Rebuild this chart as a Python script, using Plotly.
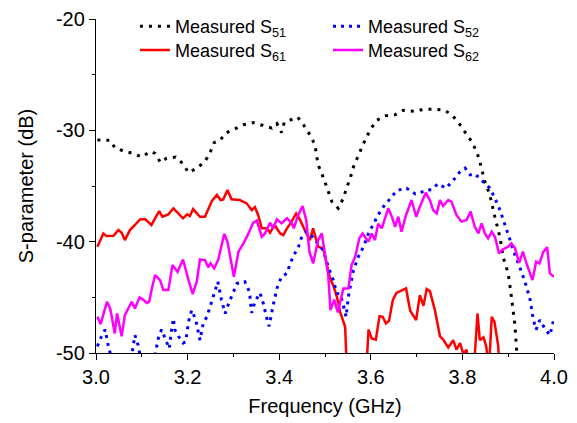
import plotly.graph_objects as go

# ---------------- data ----------------
s51_f = [3.003, 3.031, 3.041, 3.060, 3.081, 3.100, 3.118, 3.129, 3.141, 3.154, 3.174, 3.189, 3.202,
         3.220, 3.238, 3.249, 3.258, 3.271, 3.282, 3.300, 3.322, 3.343, 3.365, 3.384, 3.395, 3.405,
         3.411, 3.424, 3.440, 3.453, 3.467, 3.478, 3.485, 3.496, 3.504, 3.515, 3.529, 3.540, 3.547,
         3.555, 3.562, 3.573, 3.584, 3.598, 3.613, 3.631, 3.653, 3.671, 3.697, 3.715, 3.737, 3.762,
         3.779, 3.793, 3.809, 3.820, 3.831, 3.838, 3.849, 3.860, 3.871, 3.882, 3.889, 3.900, 3.907,
         3.915, 3.918, 3.925, 3.935]
s51_db = [-30.87, -30.9, -31.56, -31.86, -32.07, -32.4, -31.9, -32.07, -32.9, -32.5, -32.4, -32.97, -33.8,
          -33.4, -32.8, -32.0, -31.1, -30.9, -30.27, -29.9, -29.5, -29.3, -29.6, -29.8, -29.4, -30.2,
          -29.3, -29.07, -28.8, -29.5, -30.4, -31.3, -33.1, -34.2, -35.2, -36.4, -37.0, -36.1, -35.2,
          -34.3, -33.3, -32.2, -31.2, -30.0, -29.1, -28.7, -28.6, -28.2, -28.3, -28.1, -28.1, -28.2,
          -28.7, -29.4, -30.3, -31.0, -31.9, -32.8, -34.6, -35.8, -37.8, -39.6, -41.4, -42.85, -44.95,
          -47.6, -49.6, -52.5, -56.0]

s52_f = [3.003, 3.012, 3.020, 3.027, 3.040, 3.060, 3.070, 3.080, 3.085, 3.092, 3.100, 3.115, 3.125,
         3.131, 3.136, 3.143, 3.153, 3.160, 3.165, 3.169, 3.172, 3.180, 3.190, 3.196, 3.202, 3.209,
         3.218, 3.227, 3.234, 3.242, 3.249, 3.258, 3.266, 3.274, 3.282, 3.291, 3.300, 3.308, 3.325,
         3.335, 3.340, 3.347, 3.358, 3.365, 3.373, 3.378, 3.386, 3.395, 3.405, 3.417, 3.424, 3.434,
         3.441, 3.448, 3.459, 3.467, 3.478, 3.489, 3.496, 3.507, 3.518, 3.526, 3.533, 3.540, 3.546,
         3.551, 3.562, 3.573, 3.584, 3.595, 3.606, 3.616, 3.627, 3.642, 3.657, 3.678, 3.697, 3.715,
         3.733, 3.747, 3.764, 3.780, 3.793, 3.806, 3.817, 3.827, 3.846, 3.860, 3.871, 3.882, 3.893,
         3.904, 3.915, 3.929, 3.940, 3.948, 3.951, 3.955, 3.961, 3.969, 3.980, 3.991, 4.000]
s52_db = [-49.4, -48.5, -47.9, -49.4, -51.5, -52.0, -51.0, -49.7, -48.4, -49.3, -51.0, -52.0, -51.0,
          -49.6, -48.7, -47.9, -48.84, -49.6, -47.9, -46.9, -47.9, -48.5, -49.1, -48.98, -47.2, -46.15,
          -47.04, -48.84, -47.35, -46.75, -45.85, -44.65, -43.6, -45.25, -46.45, -45.4, -44.5, -43.75, -43.6,
          -44.5, -46.4, -45.4, -44.6, -45.5, -46.9, -47.6, -45.85, -44.2, -43.15, -42.85, -41.95, -41.05,
          -40.6, -39.7, -39.1, -39.26, -39.86, -40.45, -40.75, -42.25, -43.45, -44.65, -44.7, -45.7, -46.75,
          -44.95, -42.55, -41.35, -40.45, -39.26, -38.36, -37.6, -36.9, -36.2, -35.4, -35.2, -35.7, -35.5,
          -35.3, -34.8, -35.2, -34.5, -33.8, -33.4, -34.0, -33.9, -34.6, -35.2, -36.1, -37.16, -38.5,
          -39.86, -41.2, -42.7, -44.05, -45.25, -46.15, -47.04, -47.9, -47.04, -47.8, -48.4, -46.9]

s61_f = [3.003, 3.016, 3.023, 3.038, 3.049, 3.056, 3.063, 3.074, 3.085, 3.096, 3.107, 3.121, 3.129,
         3.138, 3.145, 3.158, 3.169, 3.180, 3.190, 3.199, 3.205, 3.212, 3.227, 3.238, 3.253, 3.264,
         3.272, 3.278, 3.287, 3.296, 3.314, 3.329, 3.340, 3.347, 3.354, 3.362, 3.373, 3.380, 3.390,
         3.402, 3.409, 3.417, 3.427, 3.437, 3.445, 3.456, 3.467, 3.474, 3.485, 3.496, 3.504, 3.511,
         3.518, 3.526, 3.533, 3.544, 3.548, 3.560, 3.575, 3.591, 3.595, 3.602, 3.611, 3.619, 3.626,
         3.633, 3.640, 3.648, 3.656, 3.677, 3.686, 3.699, 3.707, 3.715, 3.722, 3.729, 3.740, 3.751,
         3.758, 3.769, 3.780, 3.787, 3.795, 3.802, 3.809, 3.815, 3.825, 3.833, 3.838, 3.846, 3.852,
         3.858, 3.864, 3.870, 3.878, 3.885, 3.895]
s61_db = [-40.45, -39.26, -39.5, -39.47, -38.96, -39.2, -39.86, -38.96, -38.5, -38.0, -37.97, -38.5, -37.9,
          -37.25, -37.76, -37.55, -37.0, -37.46, -37.9, -37.55, -37.7, -37.07, -37.76, -37.76, -36.35, -35.8,
          -36.26, -36.2, -35.36, -36.2, -36.26, -36.56, -37.16, -36.9, -37.6, -38.8, -38.8, -39.2, -38.5,
          -39.26, -39.4, -38.8, -38.2, -37.46, -38.0, -38.96, -39.86, -38.8, -40.45, -40.6, -41.95, -43.3,
          -43.9, -44.95, -46.3, -47.65, -52.0, -56.0, -56.0, -51.0, -47.9, -48.7, -48.8, -46.7, -46.75,
          -47.35, -47.1, -45.25, -44.6, -44.2, -46.2, -47.04, -44.8, -45.76, -44.26, -44.44, -46.15, -48.5,
          -48.8, -49.5, -48.85, -49.7, -49.1, -50.1, -49.7, -52.0, -51.5, -46.45, -48.84, -48.6, -49.4,
          -51.5, -46.75, -47.2, -49.3, -55.0, -60.0]

s62_f = [3.003, 3.010, 3.024, 3.031, 3.041, 3.046, 3.056, 3.063, 3.078, 3.085, 3.095, 3.103, 3.111,
         3.116, 3.122, 3.129, 3.140, 3.147, 3.158, 3.167, 3.178, 3.190, 3.202, 3.211, 3.220, 3.227,
         3.238, 3.245, 3.250, 3.258, 3.267, 3.277, 3.280, 3.287, 3.293, 3.301, 3.311, 3.322, 3.333,
         3.343, 3.351, 3.362, 3.369, 3.380, 3.387, 3.395, 3.405, 3.417, 3.427, 3.432, 3.440, 3.451,
         3.459, 3.466, 3.474, 3.485, 3.493, 3.500, 3.507, 3.512, 3.520, 3.528, 3.534, 3.540, 3.551,
         3.558, 3.566, 3.575, 3.582, 3.595, 3.602, 3.609, 3.616, 3.624, 3.631, 3.638, 3.646, 3.653,
         3.660, 3.667, 3.677, 3.689, 3.699, 3.707, 3.720, 3.729, 3.736, 3.744, 3.751, 3.758, 3.769,
         3.776, 3.787, 3.798, 3.809, 3.818, 3.827, 3.835, 3.842, 3.849, 3.856, 3.864, 3.871, 3.880,
         3.888, 3.900, 3.907, 3.915, 3.924, 3.932, 3.940, 3.953, 3.961, 3.968, 3.977, 3.985, 3.991,
         4.000]
s62_db = [-46.75, -47.4, -45.4, -46.0, -48.24, -46.45, -48.5, -46.6, -45.4, -46.0, -45.0, -45.2, -45.5,
          -45.4, -44.2, -43.0, -43.45, -44.35, -44.35, -42.1, -42.7, -41.6, -43.45, -44.7, -43.6, -41.6,
          -41.65, -42.3, -41.95, -42.4, -41.6, -39.7, -39.3, -40.0, -41.35, -43.15, -40.9, -40.15, -39.26,
          -38.3, -38.1, -39.56, -39.26, -38.3, -38.8, -38.0, -38.36, -37.9, -38.3, -38.8, -37.76, -36.8,
          -38.06, -40.9, -41.95, -39.86, -39.26, -41.0, -43.0, -46.15, -45.2, -46.35, -45.4, -44.2, -44.2,
          -42.1, -41.35, -39.7, -39.26, -40.0, -39.26, -39.86, -38.4, -38.8, -37.9, -37.0, -37.76, -38.66,
          -37.76, -39.1, -37.6, -36.26, -37.76, -36.86, -35.6, -36.26, -37.16, -37.46, -36.26, -36.8, -36.26,
          -36.4, -37.6, -38.2, -38.06, -37.3, -38.66, -39.26, -38.36, -39.26, -39.7, -39.1, -39.56, -41.05,
          -40.7, -40.45, -40.15, -40.6, -41.9, -40.9, -41.95, -43.45, -41.8, -41.95, -40.9, -40.5, -42.85,
          -43.15]

x_tickvals = [3.0, 3.2, 3.4, 3.6, 3.8, 4.0]
x_ticktext = ["3.0", "3.2", "3.4", "3.6", "3.8", "4.0"]
y_tickvals = [-50, -40, -30, -20]
y_ticktext = ["-50", "-40", "-30", "-20"]

FONT = "Arial, Liberation Sans, sans-serif"

fig = go.Figure()
fig.add_trace(go.Scatter(x=s51_f, y=s51_db, mode="lines", name="Measured S<sub>51</sub>",
                         line=dict(color="black", width=3, dash="3px,6px"), legend="legend",
                         showlegend=True))
fig.add_trace(go.Scatter(x=s61_f, y=s61_db, mode="lines", name="Measured S<sub>61</sub>",
                         line=dict(color="#ff0000", width=2.5), legend="legend3", showlegend=True))
fig.add_trace(go.Scatter(x=s52_f, y=s52_db, mode="lines", name="Measured S<sub>52</sub>",
                         line=dict(color="#0000ff", width=3, dash="3px,5px"), legend="legend2",
                         showlegend=True))
fig.add_trace(go.Scatter(x=s62_f, y=s62_db, mode="lines", name="Measured S<sub>62</sub>",
                         line=dict(color="#ff00ff", width=2.5), legend="legend4", showlegend=True))

axis_common = dict(showline=True, linecolor="black", linewidth=1.3, ticks="outside",
                   ticklen=6, tickwidth=1.3, tickcolor="black", showgrid=False, zeroline=False,
                   tickfont=dict(family=FONT, size=20, color="black"), mirror=False)

fig.update_xaxes(range=[3.0, 4.0], tickmode="array", tickvals=x_tickvals, ticktext=x_ticktext,
                 minor=dict(dtick=0.1, tick0=3.0, ticks="outside", ticklen=3, tickwidth=1.3,
                            tickcolor="black"),
                 title=dict(text="Frequency (GHz)", font=dict(family=FONT, size=20, color="black"),
                            standoff=11),
                 **axis_common)
fig.update_yaxes(range=[-50, -20], tickmode="array", tickvals=y_tickvals, ticktext=y_ticktext,
                 minor=dict(dtick=5, tick0=-50, ticks="outside", ticklen=3, tickwidth=1.3,
                            tickcolor="black"),
                 title=dict(text="S-parameter (dB)", font=dict(family=FONT, size=20, color="black"),
                            standoff=16),
                 **axis_common)

legend_common = dict(font=dict(family=FONT, size=18, color="black"), bgcolor="rgba(0,0,0,0)",
                     borderwidth=0, tracegroupgap=0, orientation="v", visible=True,
                     xanchor="left", yanchor="top", itemwidth=30)
fig.update_layout(
    width=577, height=423,
    showlegend=True,
    margin=dict(l=96, r=23, t=19, b=70, autoexpand=False),
    paper_bgcolor="white", plot_bgcolor="white",
    font=dict(family=FONT, color="black"),
    legend=dict(x=0.085, y=1.033, **legend_common),
    legend2=dict(x=0.5066, y=1.033, **legend_common),
    legend3=dict(x=0.085, y=0.962, **legend_common),
    legend4=dict(x=0.5066, y=0.962, **legend_common),
)

fig.write_html("out.html", config={"displayModeBar": False},
               post_script="document.body.style.margin='0';document.body.style.padding='0';")
